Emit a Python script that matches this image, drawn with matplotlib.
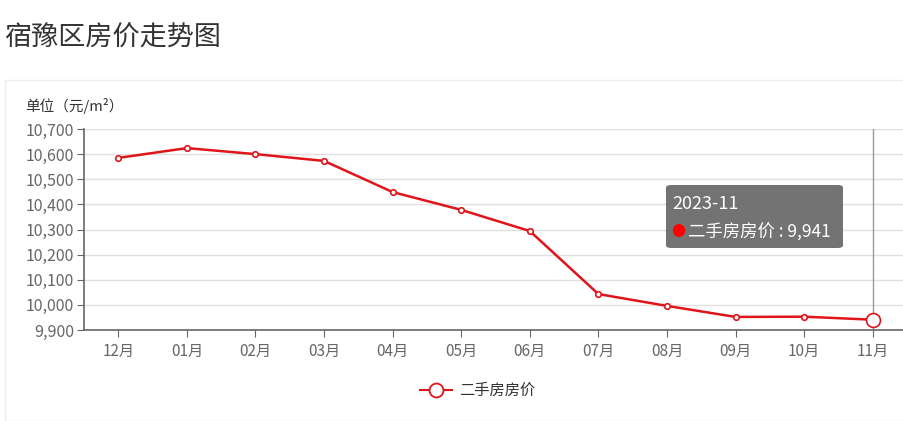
import matplotlib.pyplot as plt
import matplotlib.ticker as ticker
from matplotlib.patches import Rectangle, FancyBboxPatch

plt.rcParams['font.family'] = ['Noto Sans CJK SC', 'DejaVu Sans']

months = ['12月', '01月', '02月', '03月', '04月', '05月', '06月', '07月', '08月', '09月', '10月', '11月']
prices = [10585, 10624, 10600, 10573, 10449, 10378, 10294, 10043, 9996, 9952, 9953, 9941]
series_name = '二手房房价'
hover_label = '2023-11'

W, H = 904, 421
fig = plt.figure(figsize=(W / 100, H / 100), dpi=100)

# 外框
fig.patches.append(Rectangle((5 / W, 0), 1, 1 - 80 / H, transform=fig.transFigure,
                             fill=False, edgecolor='#eeeeee', linewidth=1))
fig.text(4 / W, 1 - 38 / H, '宿豫区房价走势图', fontsize=19.5, color='#333333', va='center')

ax = fig.add_axes([84 / W, 1 - 330 / H, (907 - 84) / W, (330 - 129) / H])
x = list(range(len(months)))
ax.plot(x, prices, color='#e0141b', linewidth=1.8, marker='o', markersize=4,
        markerfacecolor='white', markeredgecolor='#e0141b', markeredgewidth=1.2, zorder=3)
ax.plot(x[-1], prices[-1], marker='o', markersize=10, markerfacecolor='white',
        markeredgecolor='#e0141b', markeredgewidth=1.2, zorder=4)

ax.set_xlim(-0.5, len(months) - 0.5)
ax.set_ylim(9900, 10700)
ax.yaxis.set_major_locator(ticker.MultipleLocator(100))
ax.yaxis.set_major_formatter(ticker.FuncFormatter(lambda v, p: f'{int(v):,}'))
ax.set_xticks(x)
ax.set_xticklabels(months)
ax.grid(axis='y', color='#e0e0e0', linewidth=1)
ax.set_axisbelow(True)
for s in ['top', 'right']:
    ax.spines[s].set_visible(False)
for s in ['left', 'bottom']:
    ax.spines[s].set_color('#666666')
    ax.spines[s].set_linewidth(1.2)
ax.tick_params(axis='both', colors='#666666', labelcolor='#666666', length=5)
ax.tick_params(axis='y', labelsize=11.5, pad=2)
ax.tick_params(axis='x', labelsize=11, pad=4)

# 指示线
ax.axvline(x[-1], color='#999999', linewidth=1, zorder=2)

fig.text(25 / W, 1 - 106 / H, '单位（元/m²）', fontsize=10.5, color='#333333', va='center')

# 提示框
tip = FancyBboxPatch((666 / W, 1 - 248 / H), (843 - 666) / W, (248 - 185) / H,
                     boxstyle='round,pad=0,rounding_size=0.006', transform=fig.transFigure,
                     facecolor='#6b6b6b', edgecolor='none', alpha=0.95, zorder=10)
fig.patches.append(tip)
fig.text(672 / W, 1 - 204 / H, hover_label, fontsize=13, color='white', va='center', zorder=11)
fig.text(678 / W, 1 - 232 / H, '●', fontsize=10, color='#ff0000', va='center', ha='center', zorder=11)
fig.text(688 / W, 1 - 232 / H, f'{series_name} : {prices[-1]:,}', fontsize=12.5, color='white',
         va='center', zorder=11)

# 图例
fig.lines.append(plt.Line2D([420 / W, 452 / W], [1 - 390 / H] * 2, transform=fig.transFigure,
                            color='#e0141b', linewidth=1.5))
fig.lines.append(plt.Line2D([436 / W], [1 - 390 / H], transform=fig.transFigure, marker='o',
                            markersize=10, markerfacecolor='white', markeredgecolor='#e0141b',
                            markeredgewidth=1.3))
fig.text(459 / W, 1 - 390 / H, series_name, fontsize=11, color='#333333', va='center')

fig.savefig('out.png', dpi=100)
plt.close()
